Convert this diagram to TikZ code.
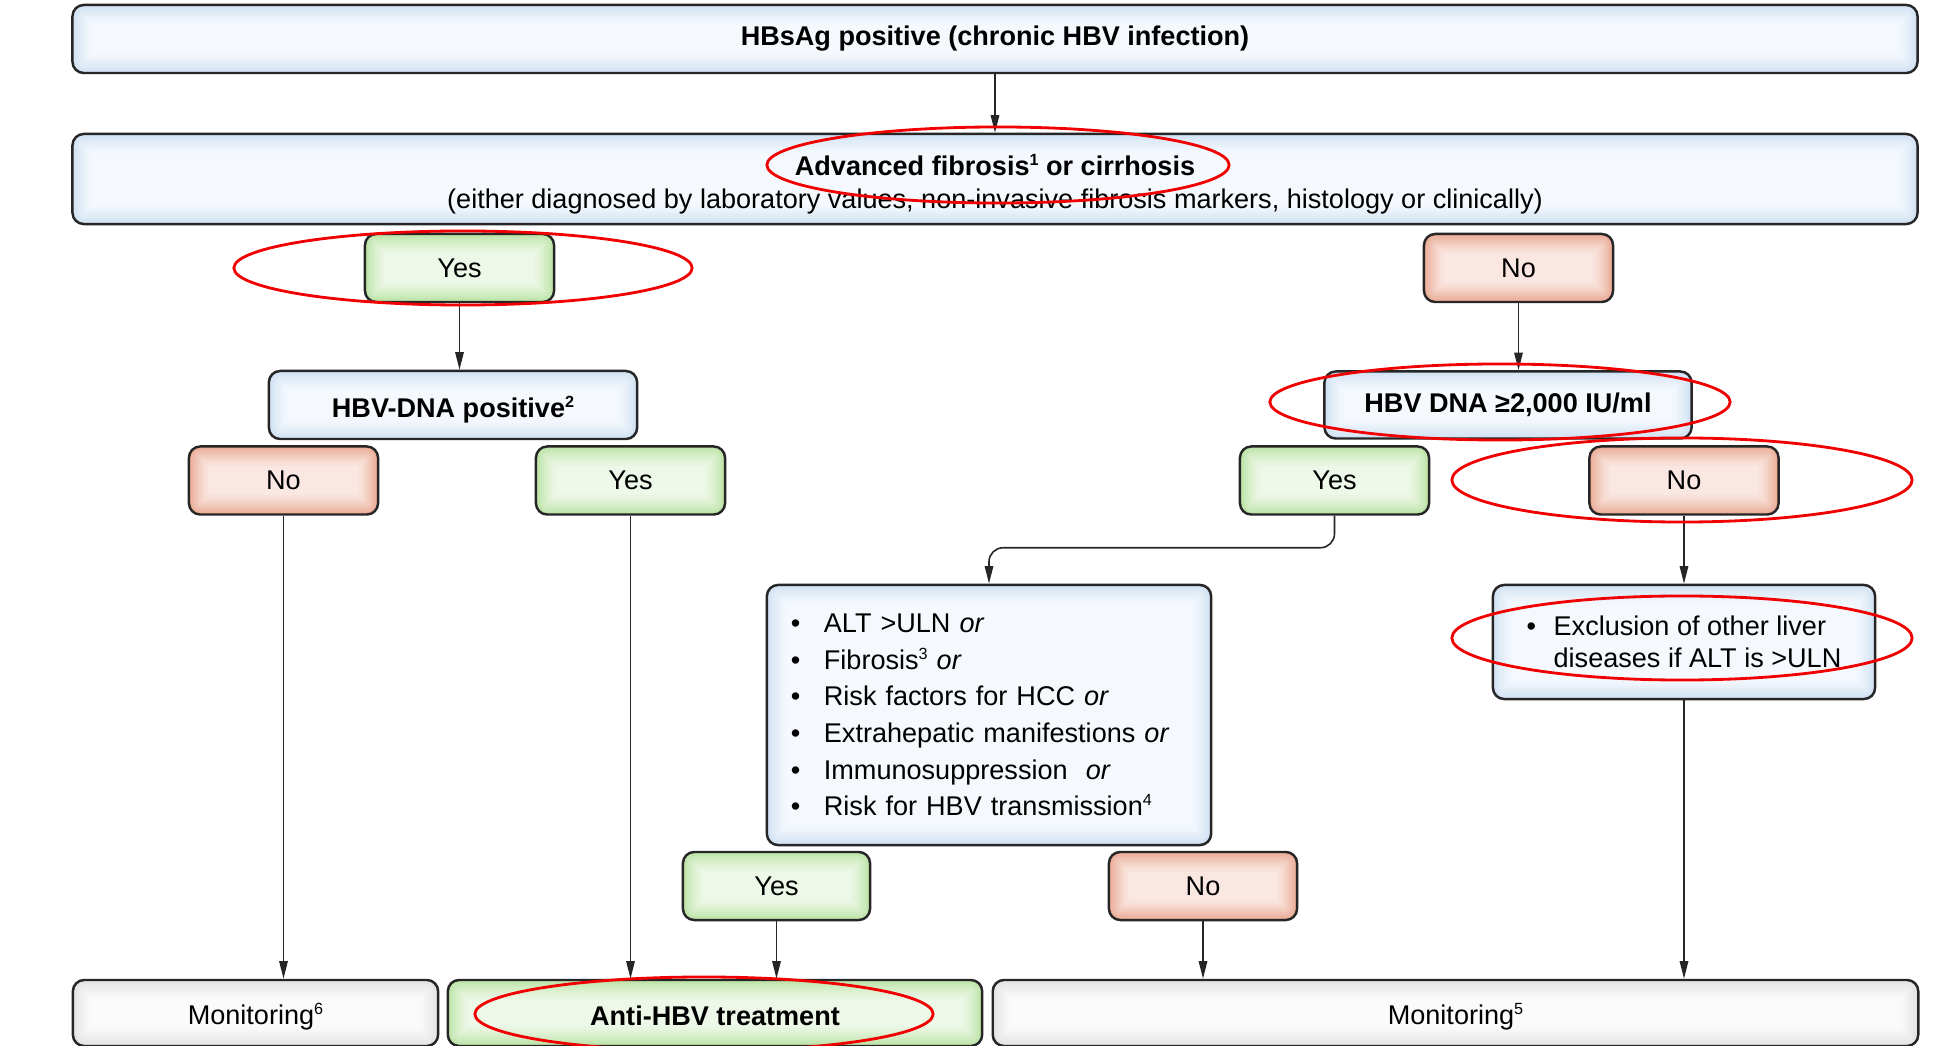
\documentclass[tikz,border=0pt]{standalone}
\usepackage{fontspec}
\setmainfont{Liberation Sans}
\usetikzlibrary{arrows.meta}
\definecolor{blueC}{HTML}{F5F9FD}
\definecolor{blueE}{HTML}{D0E1F3}
\definecolor{greenC}{HTML}{EDF8E8}
\definecolor{greenE}{HTML}{BBE3A5}
\definecolor{redC}{HTML}{FAE7E1}
\definecolor{redE}{HTML}{EAAA94}
\definecolor{grayC}{HTML}{FBFBFB}
\definecolor{grayE}{HTML}{E2E2E2}
\definecolor{ellred}{HTML}{F00000}
\newcommand\diagfs{\fontsize{7.7}{9.4}\selectfont}
\newcommand\sups[1]{\raisebox{0.38em}{\fontsize{4.6}{5}\selectfont #1}}
\tikzset{
  glow/.style 2 args={fill=#1, path picture={
    \foreach \w/\p in {11/10, 9/22, 7.5/35, 6/48, 4.6/60, 3.3/72, 2.2/84, 1.2/95}{
      \draw[#2!\p!#1, line width=\w pt, rounded corners=3.2pt] (path picture bounding box.south west) rectangle (path picture bounding box.north east);
    }
  }},
  box/.style={draw=black!85, line width=0.7pt, rounded corners=3.2pt, inner sep=0pt, align=center, font=\diagfs},
  bluebox/.style={box, glow={blueC}{blueE}},
  greenbox/.style={box, glow={greenC}{greenE}},
  redbox/.style={box, glow={redC}{redE}},
  graybox/.style={box, glow={grayC}{grayE}},
  yn/.style={minimum width=1.89cm, minimum height=0.68cm},
  arr/.style={-{Triangle[length=5pt,width=2.4pt]}, line width=0.45pt, draw=black!85},
  redell/.style={draw=ellred, line width=0.8pt},
}
\begin{document}
\begin{tikzpicture}[x=0.01cm,y=-0.01cm]
\useasboundingbox (0,0) rectangle (1957,1046);

\node[bluebox, minimum width=18.44cm, minimum height=0.68cm, font=\diagfs\bfseries] (top) at (995,39) {HBsAg positive (chronic HBV infection)};
\node[bluebox, minimum width=18.44cm, minimum height=0.90cm] (fib) at (995,179) {\rule{0pt}{8.9pt}\textbf{Advanced fibrosis\sups{1} or cirrhosis}\\(either diagnosed by laboratory values, non-invasive fibrosis markers, histology or clinically)};

\node[greenbox, yn] (yes1) at (459.5,268) {Yes};
\node[redbox, yn] (no1) at (1518.5,268) {No};

\node[bluebox, minimum width=3.68cm, minimum height=0.68cm, font=\diagfs\bfseries] (dnapos) at (453,405) {\rule{0pt}{8.6pt}HBV-DNA positive\sups{2}};
\node[bluebox, minimum width=3.67cm, minimum height=0.67cm, font=\diagfs\bfseries] (dnak) at (1508,405) {HBV DNA ≥2,000 IU/ml};

\node[redbox, yn] (no2) at (283.5,480.5) {No};
\node[greenbox, yn] (yes2) at (630.5,480.5) {Yes};
\node[greenbox, yn] (yes3) at (1334.5,480.5) {Yes};
\node[redbox, yn] (no3) at (1684,480.5) {No};

\node[bluebox, minimum width=4.44cm, minimum height=2.60cm, text width=3.96cm, align=left, font=\fontsize{7.7}{10.4}\selectfont] (crit) at (989,715) {%
\makebox[0.33cm][l]{\textbullet}ALT >ULN \textit{or}\\
\makebox[0.33cm][l]{\textbullet}Fibrosis\sups{3} \textit{or}\\
\makebox[0.33cm][l]{\textbullet}Risk factors for HCC \textit{or}\\
\makebox[0.33cm][l]{\textbullet}Extrahepatic manifestions \textit{or}\\
\makebox[0.33cm][l]{\textbullet}Immunosuppression \ \textit{or}\\
\makebox[0.33cm][l]{\textbullet}Risk for HBV transmission\sups{4}};

\node[bluebox, minimum width=3.82cm, minimum height=1.14cm, align=left, font=\fontsize{7.7}{9}\selectfont] (excl) at (1684,642) {%
\makebox[0.27cm][l]{\textbullet}Exclusion of other liver\\
\hspace*{0.27cm}diseases if ALT is >ULN};

\node[greenbox, minimum width=1.87cm, minimum height=0.68cm] (yes4) at (776.5,886) {Yes};
\node[redbox, minimum width=1.88cm, minimum height=0.68cm] (no4) at (1203,886) {No};

\node[graybox, minimum width=3.65cm, minimum height=0.66cm] (mon6) at (255.5,1013) {\rule{0pt}{8.2pt}Monitoring\sups{6}};
\node[greenbox, minimum width=5.34cm, minimum height=0.66cm, font=\diagfs\bfseries] (anti) at (715,1013) {\rule{0pt}{7.2pt}Anti-HBV treatment};
\node[graybox, minimum width=9.25cm, minimum height=0.66cm] (mon5) at (1455.5,1013) {\rule{0pt}{8.2pt}Monitoring\sups{5}};

\draw[arr] (top.south) -- (fib.north);
\draw[arr] (yes1.south) -- (yes1.south |- dnapos.north);
\draw[arr] (no1.south) -- (no1.south |- dnak.north);
\draw[arr] (no2.south) -- (no2.south |- mon6.north);
\draw[arr] (yes2.south) -- (yes2.south |- anti.north);
\draw[arr] (yes4.south) -- (yes4.south |- anti.north);
\draw[arr] (no4.south) -- (no4.south |- mon5.north);
\draw[arr] (excl.south) -- (excl.south |- mon5.north);
\draw[arr] (no3.south) -- (no3.south |- excl.north);
\draw[arr, rounded corners=4pt] (yes3.south) -- ++(0,32) -| (crit.north);

\draw[redell] (998,165) ellipse [x radius=2.31cm, y radius=0.38cm];
\draw[redell] (463,268) ellipse [x radius=2.29cm, y radius=0.37cm];
\draw[redell] (1500,402) ellipse [x radius=2.30cm, y radius=0.38cm];
\draw[redell] (1682,480) ellipse [x radius=2.30cm, y radius=0.42cm];
\draw[redell] (1682,638) ellipse [x radius=2.30cm, y radius=0.42cm];
\draw[redell] (704,1014) ellipse [x radius=2.29cm, y radius=0.37cm];
\end{tikzpicture}
\end{document}
